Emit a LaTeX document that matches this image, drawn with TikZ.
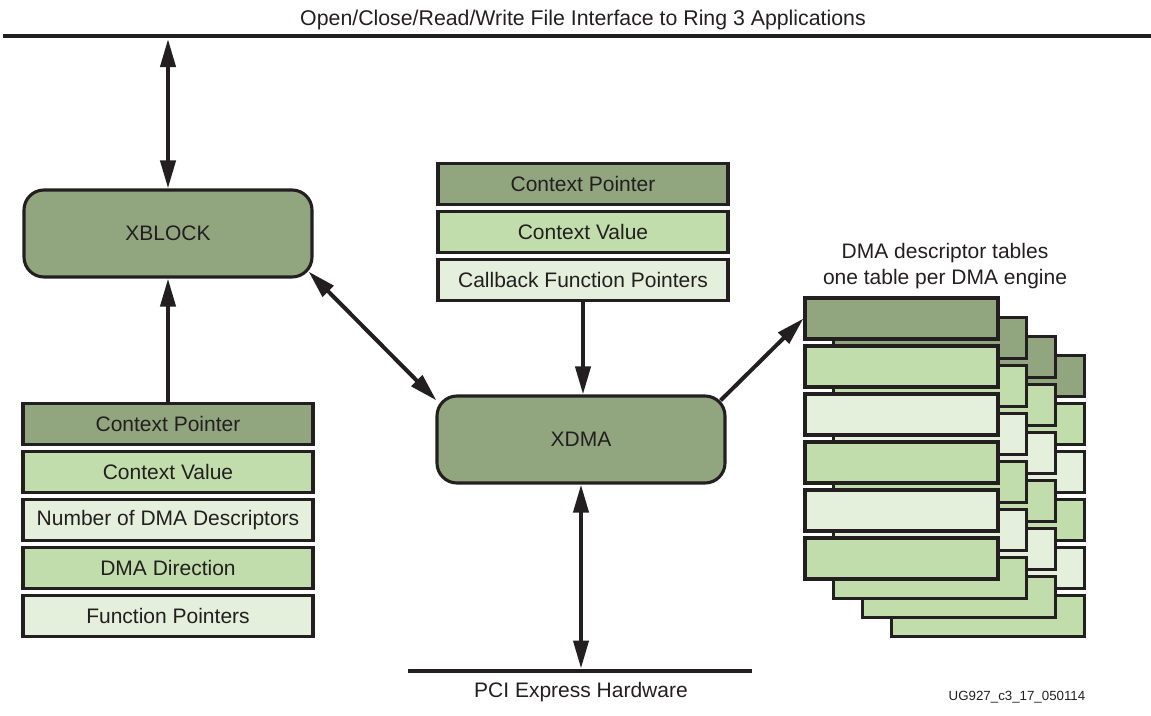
\documentclass[tikz,border=0pt]{standalone}
\usepackage{fontspec}
\setmainfont{Liberation Sans}
\usetikzlibrary{arrows.meta,calc}
\definecolor{dk}{HTML}{91A67F}
\definecolor{md}{HTML}{C2DDAC}
\definecolor{lt}{HTML}{E4F0DC}
\definecolor{ink}{HTML}{231F20}
\tikzset{
  txt/.style={font=\fontsize{21}{25}\selectfont, text=ink},
  field/.style={txt, draw=ink, line width=3.1pt, minimum width=290pt, minimum height=41pt, inner sep=0pt},
  desc/.style={draw=ink, line width=3.1pt, minimum width=193pt, minimum height=41pt, inner sep=0pt},
  engine/.style={txt, draw=ink, fill=dk, line width=3.1pt, rounded corners=20pt, minimum width=288pt, minimum height=87pt},
  bus/.style={line width=4.8pt, draw=ink},
  conn/.style={line width=4pt, draw=ink},
  tip/.style={-{Triangle[length=28pt,width=15pt]}},
  tips/.style={{Triangle[length=28pt,width=15pt]}-{Triangle[length=28pt,width=15pt]}},
}
\begin{document}
\begin{tikzpicture}[x=1pt,y=-1pt]
\useasboundingbox (0,0) rectangle (1151,715);
% top bus
\node[txt, font=\fontsize{21.3}{25}\selectfont] (title) at (583,20) {Open/Close/Read/Write File Interface to Ring 3 Applications};
\coordinate (tl) at (3,36);
\coordinate (tr) at (1151,36);
\draw[bus] (tl) -- (tr);
% PCI bus
\coordinate (pl) at (408,671);
\coordinate (pr) at (752,671);
\draw[bus] (pl) -- (pr);
\node[txt] (pci) at (581,692) {PCI Express Hardware};
\node[font=\fontsize{13.3}{15}\selectfont, text=ink] (ug) at (1017,697) {UG927\_c3\_17\_050114};
% engines
\node[engine] (xblock) at (168,233.5) {XBLOCK};
\node[engine] (xdma) at (581,439.5) {XDMA};
% left stack
\node[field, fill=dk] (l1) at (168,424) {Context Pointer};
\node[field, fill=md] (l2) at (168,472) {Context Value};
\node[field, fill=lt] (l3) at (168,520) {Number of DMA Descriptors};
\node[field, fill=md] (l4) at (168,568) {DMA Direction};
\node[field, fill=lt] (l5) at (168,616) {Function Pointers};
% middle stack
\node[field, fill=dk] (m1) at (583,184) {Context Pointer};
\node[field, fill=md] (m2) at (583,232) {Context Value};
\node[field, fill=lt] (m3) at (583,280) {Callback Function Pointers};
% descriptor tables
\node[txt, align=center, inner sep=0pt] (dhead) at (945,266.5) {DMA descriptor tables\\[1pt]one table per DMA engine};
\foreach \k in {3,2,1,0} {
  \foreach \i/\c in {0/dk,1/md,2/lt,3/md,4/lt,5/md} {
    \node[desc, fill=\c] (d\k\i) at ({901.5+28.7*\k},{318.5+48*\i+19.3*\k}) {};
  }
}
% connectors
\coordinate (topA) at (168,39);
\draw[conn, tips] (topA) -- (xblock.north);
\draw[conn, tip] (l1.north) -- (xblock.south);
\draw[conn, tips] ($(xblock.south east)+(-5,-7)$) -- ($(xdma.north west)+(1,6)$);
\draw[conn, tip] (m3.south) -- (m3.south |- xdma.north);
\draw[conn, tip] ($(xdma.north east)+(-6,6)$) -- (d00.west);
\coordinate (pciA) at (581,668.5);
\draw[conn, tips] (xdma.south) -- (pciA);
\end{tikzpicture}
\end{document}
